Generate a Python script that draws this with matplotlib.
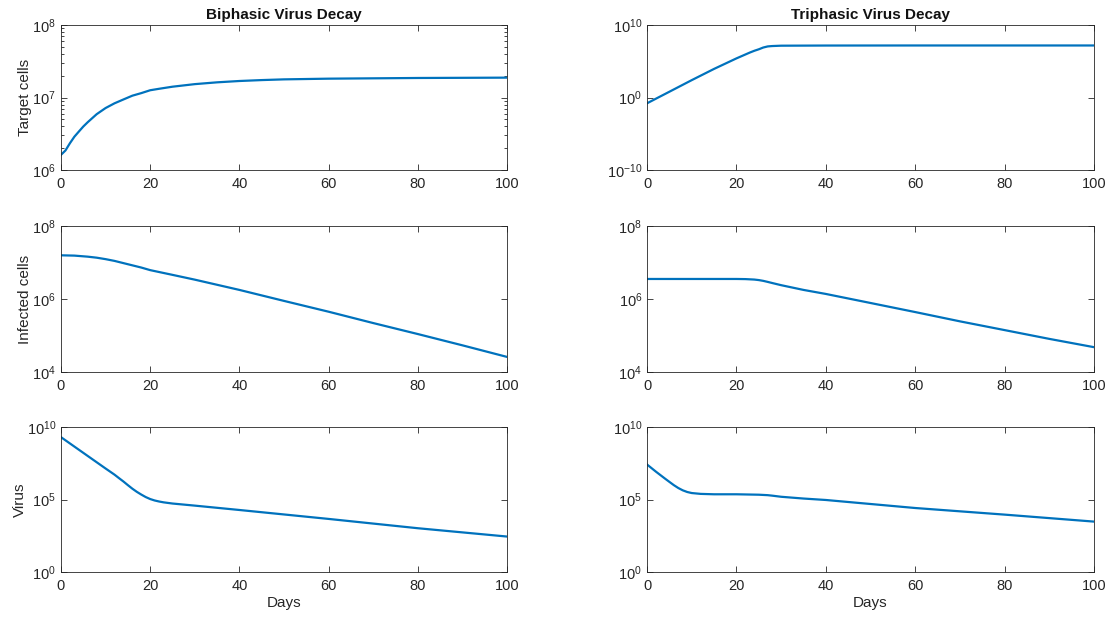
import matplotlib
matplotlib.use('Agg')
import matplotlib.pyplot as plt
from matplotlib.ticker import LogLocator, NullLocator

# Datos (dias, valor)
dias_target_bi = [0, 1, 2, 3, 4, 5, 6, 8, 10, 12, 14, 16, 18, 20, 22, 25, 30, 35, 40, 45, 50, 60, 80, 100]
target_bi = [1.62e6, 1.86e6, 2.34e6, 2.88e6, 3.39e6, 3.98e6, 4.57e6, 5.89e6, 7.16e6, 8.32e6,
             9.4e6, 1.06e7, 1.15e7, 1.26e7, 1.32e7, 1.41e7, 1.53e7, 1.62e7, 1.69e7, 1.74e7,
             1.78e7, 1.82e7, 1.86e7, 1.88e7]

dias_target_tri = [0, 5, 10, 15, 20, 23, 24, 25, 26, 27, 28, 30, 40, 60, 80, 100]
target_tri = [0.16, 6.3, 250, 8.9e3, 2.5e5, 1.6e6, 2.8e6, 4.5e6, 7.9e6, 1.12e7, 1.26e7,
              1.41e7, 1.48e7, 1.51e7, 1.51e7, 1.51e7]

dias_inf_bi = [0, 3, 6, 8, 10, 12, 15, 18, 20, 25, 30, 40, 50, 60, 70, 80, 90, 100]
inf_bi = [1.58e7, 1.55e7, 1.45e7, 1.36e7, 1.24e7, 1.11e7, 9.0e6, 7.3e6, 6.2e6, 4.6e6,
          3.4e6, 1.78e6, 8.9e5, 4.5e5, 2.2e5, 1.1e5, 5.4e4, 2.6e4]

dias_inf_tri = [0, 10, 20, 22, 24, 25, 26, 27, 28, 30, 35, 40, 50, 60, 70, 80, 90, 100]
inf_tri = [3.55e6, 3.55e6, 3.55e6, 3.52e6, 3.42e6, 3.31e6, 3.15e6, 2.95e6, 2.75e6, 2.4e6,
           1.78e6, 1.38e6, 7.8e5, 4.4e5, 2.45e5, 1.41e5, 8.1e4, 4.8e4]

dias_vir_bi = [0, 5, 10, 12, 13, 14, 15, 16, 17, 18, 19, 20, 21, 22, 23, 25, 30, 40, 60, 80, 100]
vir_bi = [2.0e9, 1.66e8, 1.38e7, 5.2e6, 3.0e6, 1.75e6, 9.8e5, 5.6e5, 3.4e5, 2.2e5, 1.48e5,
          1.08e5, 8.6e4, 7.3e4, 6.4e4, 5.3e4, 3.8e4, 1.9e4, 4.6e3, 1.05e3, 2.8e2]

dias_vir_tri = [0, 2, 4, 5, 6, 7, 8, 9, 10, 12, 15, 20, 25, 27, 28, 30, 35, 40, 60, 80, 100]
vir_tri = [2.6e7, 8.3e6, 2.8e6, 1.65e6, 9.8e5, 6.2e5, 4.3e5, 3.3e5, 2.8e5, 2.45e5, 2.3e5,
           2.3e5, 2.15e5, 2.0e5, 1.85e5, 1.55e5, 1.17e5, 9.3e4, 2.6e4, 9.1e3, 3.0e3]

titulos = ['Biphasic Virus Decay', 'Triphasic Virus Decay']
etiquetas_y = ['Target cells', 'Infected cells', 'Virus']

plt.rcParams['font.family'] = ['Liberation Sans', 'DejaVu Sans']
plt.rcParams['mathtext.fontset'] = 'custom'
plt.rcParams['mathtext.rm'] = 'Liberation Sans'
plt.rcParams['mathtext.it'] = 'Liberation Sans:italic'

GRIS = '#262626'
AZUL = '#0072BD'

fig = plt.figure(figsize=(11.11, 6.18), dpi=100)

xs = [0.0549, 0.5824]
ws = [0.4014, 0.4023]
filas = [(0.7249, 0.2346), (0.398, 0.2362), (0.0744, 0.2346)]

series = [
    [(dias_target_bi, target_bi), (dias_target_tri, target_tri)],
    [(dias_inf_bi, inf_bi), (dias_inf_tri, inf_tri)],
    [(dias_vir_bi, vir_bi), (dias_vir_tri, vir_tri)],
]
limites_y = [
    [(1e6, 1e8), (1e-10, 1e10)],
    [(1e4, 1e8), (1e4, 1e8)],
    [(1e0, 1e10), (1e0, 1e10)],
]
ticks_y = [
    [[1e6, 1e7, 1e8], [1e-10, 1e0, 1e10]],
    [[1e4, 1e6, 1e8], [1e4, 1e6, 1e8]],
    [[1e0, 1e5, 1e10], [1e0, 1e5, 1e10]],
]

for fila in range(3):
    for col in range(2):
        b, h = filas[fila]
        ax = fig.add_axes([xs[col], b, ws[col], h])
        dias, vals = series[fila][col]
        ax.plot(dias, vals, color=AZUL, linewidth=1.6)
        ax.set_yscale('log')
        ax.set_xlim(0, 100)
        ax.set_ylim(*limites_y[fila][col])
        ax.set_xticks([0, 20, 40, 60, 80, 100])
        ax.set_yticks(ticks_y[fila][col])
        if fila == 0 and col == 0:
            ax.yaxis.set_minor_locator(LogLocator(base=10, subs=range(2, 10)))
        else:
            ax.yaxis.set_minor_locator(NullLocator())
        ax.tick_params(which='both', direction='in', top=True, right=True,
                       colors=GRIS, labelsize=10.5, labelcolor=GRIS, width=0.6)
        ax.tick_params(which='major', length=4)
        ax.tick_params(which='minor', length=2.2)
        ax.tick_params(axis='x', pad=5)
        for sp in ax.spines.values():
            sp.set_color(GRIS)
            sp.set_linewidth(0.6)
        if col == 0:
            ax.set_ylabel(etiquetas_y[fila], fontsize=11, color=GRIS, labelpad=0)
        if fila == 0:
            ax.set_title(titulos[col], fontsize=11, fontweight='bold', color='#111111', pad=4)
        if fila == 2:
            ax.set_xlabel('Days', fontsize=11, color=GRIS, labelpad=2)

fig.savefig('out.png', dpi=100)
